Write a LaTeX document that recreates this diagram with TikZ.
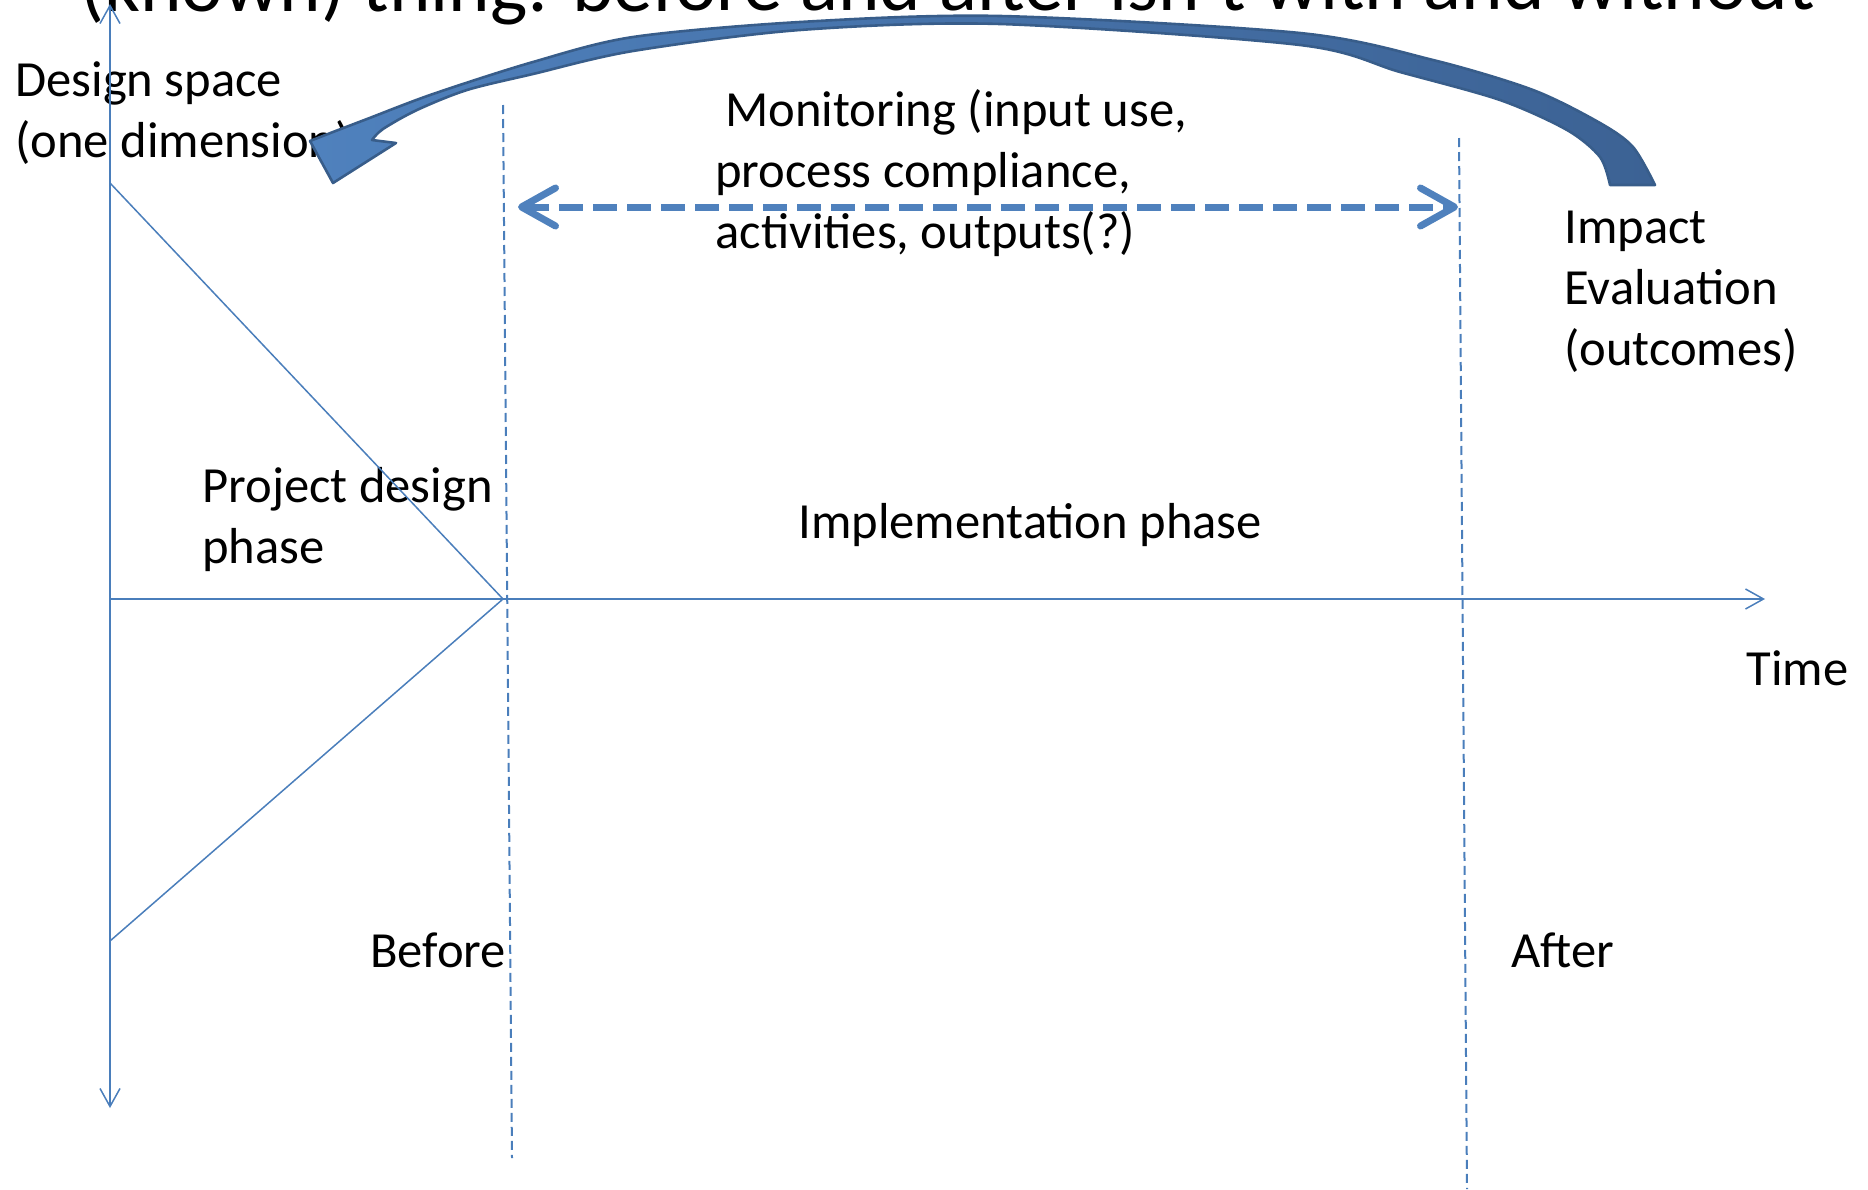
\documentclass[tikz,border=0pt]{standalone}
\usepackage{fontspec}
\setmainfont{Carlito}
\usetikzlibrary{arrows.meta}

\definecolor{axisblue}{RGB}{74,126,187}
\definecolor{arrowblue}{RGB}{79,129,189}
\definecolor{edgeblue}{RGB}{56,93,138}
\definecolor{shaftblue}{RGB}{60,98,148}

\tikzset{
  lbl/.style={anchor=base west, inner sep=0pt, align=left,
    font=\fontsize{25.3pt}{30.5pt}\selectfont},
  axis/.style={axisblue, line width=0.75pt},
  phase/.style={axisblue, line width=1pt, dash pattern=on 4.5pt off 2.5pt},
  barb/.tip={Straight Barb[length=9pt,width=10pt]},
  bigbarb/.tip={Straight Barb[length=17pt,width=19pt,round]}
}

\begin{document}
\begin{tikzpicture}[x=0.5pt,y=-0.5pt]
\useasboundingbox (0,0) rectangle (1868,1189);

% title line, cut off by the top of the page
\node[anchor=base west, inner sep=0pt, rotate=0.1, font=\fontsize{39.5pt}{48pt}\selectfont] (title) at (80,12)
  {(known) thing: before and after isn't with and without};

% labels (multi-line ones sit on their last line)
\node[lbl] (space) at (15,157) {Design space\\(one dimension)};
\node[lbl] (monit) at (715,248) {\hspace{5pt}Monitoring (input use,\\process compliance,\\activities, outputs(?)};
\node[lbl] (impact) at (1564,365) {Impact\\Evaluation\\(outcomes)};
\node[lbl] (design) at (202,563) {Project design\\phase};
\node[lbl] (impl) at (798,538) {Implementation phase};
\node[lbl] (time) at (1746,685) {Time};
\node[lbl] (before) at (370,967) {Before};
\node[lbl] (after) at (1511,967) {After};

% axes and the design funnel
\coordinate (top) at (110,4);
\coordinate (bot) at (110,1108);
\coordinate (O) at (110,599);
\coordinate (end) at (1765,599);
\coordinate (apex) at (503,599);
\coordinate (hi) at (110,183);
\coordinate (lo) at (110,941);
\draw[axis,barb-barb] (top) -- (bot);
\draw[axis,-barb] (O) -- (end);
\draw[axis] (hi) -- (apex) -- (lo);

% start and end of implementation
\coordinate (b1) at (503,105);
\coordinate (b2) at (512,1158);
\coordinate (a1) at (1459,138);
\coordinate (a2) at (1467,1189);
\draw[phase] (b1) -- (b2);
\draw[phase] (a1) -- (a2);

% monitoring span
\coordinate (m1) at (518,207);
\coordinate (m2) at (1458,207);
\draw[arrowblue, line width=3.5pt, dash pattern=on 12pt off 5pt, bigbarb-bigbarb] (m1) -- (m2);

% feedback arrow from impact evaluation back to design
\path[draw=edgeblue, line width=1.3pt, line join=round, left color=arrowblue, right color=shaftblue]
  plot[smooth] coordinates {(1655,185) (1633,147) (1600,123) (1533,90) (1433,60) (1300,33)
    (1000,16) (800,22) (633,37) (533,62) (433,94) (367,119) (333,132)}
  -- (310,141) -- (333,183) -- (396,143) -- (372,140)
  -- plot[smooth] coordinates {(372,140) (383,129) (417,110) (467,90) (533,74) (633,51) (800,30)
    (1000,24) (1300,45) (1400,72) (1500,100) (1567,130) (1600,157) (1610,185)}
  -- cycle;
\end{tikzpicture}
\end{document}
